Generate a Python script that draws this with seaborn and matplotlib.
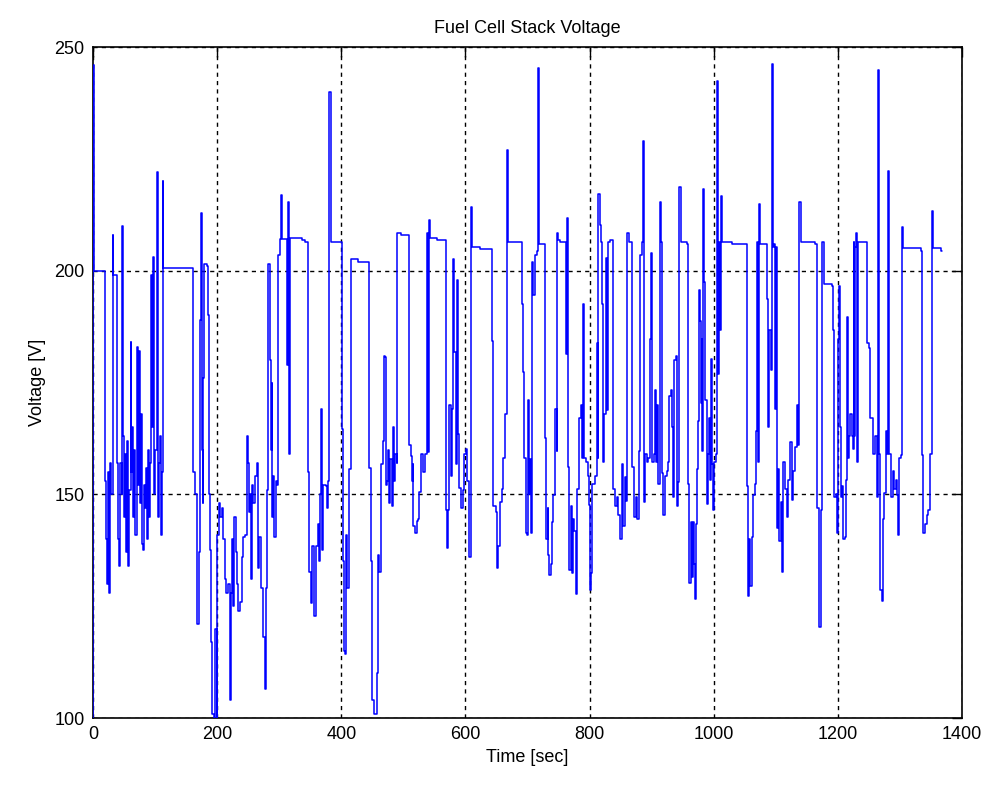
import matplotlib
matplotlib.use("Agg")
import matplotlib.pyplot as plt
import pandas as pd
import seaborn as sns

# step samples (time in sec, stack voltage in V)
time_s = [
    0, 0.3, 1, 19.5, 21, 22.5, 24, 25.5, 27, 29, 31.5, 33, 39.5, 41, 42.5, 44, 46, 47, 49,
    50.5, 52, 53.5, 55, 57, 58.5, 60.5, 62, 63.5, 65, 66.5, 68, 70.5, 72, 73.5, 74.5, 76,
    77.5, 79, 81, 82.5, 84, 85.5, 87, 89, 90.5, 92, 93, 95, 97, 98.5, 100, 102.5, 104, 106,
    107.5, 109.5, 111, 112.2, 113.3, 161.6, 164, 167, 168, 170, 172.4, 174, 175.5, 176.7,
    178, 179.4, 184.2, 185.8, 187, 188.5, 190.1, 192.2, 195, 197, 199.5, 200.3, 203, 204.6,
    207.3, 210, 212.7, 215, 217, 220, 222, 223.4, 226, 227.7, 229.8, 232,
    234.2, 236.9, 239.5, 242.2, 244.9, 248.7, 250.3, 251.5, 253, 254.6, 256.7, 258.3, 261,
    263.7, 265.3, 267.5, 270.7, 273.4, 277.1, 278.7, 280.9, 282.5, 284.7, 285.7, 287, 288,
    289, 290.6, 292.2, 294.3, 295.9, 298.6, 301.3, 302.9, 305.1, 312, 314.7, 316.3, 317.4,
    336.2, 341.6, 345.9, 348, 351.2, 353.4, 356.6, 358.8, 362, 364.1, 365.7, 367.9, 369.5,
    371.1, 374.9, 377, 379.2, 380.8, 382.9, 400.6, 403.3, 405, 406, 407.6, 409.8, 412.5,
    415.1, 427.5, 445.2, 447.9, 450, 453.3, 457, 458.6, 461.3, 463.5, 466.7, 468.8,
    470.5, 472.1, 474.2, 476, 477.4, 479, 481.2, 482.8, 485, 486.6, 489.3, 490.3, 495.7,
    509.7, 511.8, 513.4, 515, 516.1, 518.8, 521.5, 524.2, 525.8, 527.9, 532.2, 534.9, 537.6,
    540.3, 541.9, 543, 553.7, 568.7, 570.9, 572.5, 574.1, 576.8, 578.4, 580.5, 582.2, 584.3,
    585.9, 588.6, 590.2, 592.4, 595.6, 597.7, 600.9, 603.1, 606.3, 608.5, 610.6, 623.5,
    642.3, 645, 648.7, 651.4, 653, 655.7, 658.4, 661.1, 663.8, 666.5, 668.1, 690.6, 693.3,
    694.9, 697.1, 699.8, 701.4,
    703, 704.5, 705.7, 707.8, 709.4, 712.1, 714.8, 716.4, 718.6, 727.1, 728.2, 729.3, 732.5,
    733.6, 735.2, 737.3, 739, 741.6, 744.3, 747, 748.1, 749.7, 752.4, 761.5, 763.1, 764.7,
    766.9, 769.6, 771.2, 773.9, 775.5, 777.6, 779.2, 781.9, 783.5, 786.2, 788.4, 790, 791.6,
    794.3, 797, 799.1, 800.7, 802.3, 803.4, 806.1, 808.8, 811.5, 813.1, 814.1, 816.3, 818.4,
    820.6, 822.2, 823.8, 826, 827.6, 830.3, 832.9, 838.3, 841, 843.7, 846.4, 849, 851.7,
    854.4, 857.1, 858.7, 860.9, 863.5, 868.9, 871.6, 874.8, 877, 879.7, 881.3, 884, 886.1,
    887.7, 889.3, 892, 894.7, 896.8, 899, 901.1, 903.3, 905.4, 907, 909.2, 910.8, 913,
    914.6, 916.2, 918.9, 921.5, 924.2, 926.9, 928.5, 930.7, 932.3, 935, 936.6,
    937.7, 939.3, 941.4, 943, 944.6, 946.8, 956.5, 959.1, 960.7, 962.9, 964.5, 966.1, 968.3,
    969.9, 971.5, 973.6, 975.2, 976.9, 977.9, 979.5, 980.6, 981.7, 983.3, 984.9, 986.5,
    988.7, 990.3, 992.4, 994, 995.7, 997.3, 999.4, 1001, 1003.2, 1004.8, 1006.4, 1008.5,
    1010.2, 1011.2, 1012.8, 1029, 1053.1, 1054.7, 1056.9, 1058.5, 1061.2, 1063.9, 1066.5,
    1068.1, 1070.3, 1071.9, 1073.5, 1074.6, 1086.4, 1088, 1089.6, 1091.8, 1093.4, 1095,
    1097.1, 1099.3, 1100.9, 1102.5, 1104.1, 1105.7, 1107.9, 1109.5, 1112.2, 1114.9, 1117.6,
    1120.2, 1122.9, 1125.6, 1128.3, 1131, 1133.7, 1136.3, 1138, 1140.1, 1163.2,
    1166.5, 1169.6, 1172.9, 1175, 1178.2, 1190, 1192.7, 1194.3, 1196.5, 1198.1, 1199.7,
    1201.9, 1203.5, 1205.1, 1207.2, 1208.8, 1211.5, 1213.1, 1215.3, 1216.9, 1218.5, 1220.1,
    1222.3, 1223.9, 1225.5, 1226.6, 1228.2, 1229.8, 1230.9, 1231.9, 1246.4, 1247.5, 1250.2,
    1252.3, 1254.5, 1257.2, 1259.9, 1262.5, 1264.2, 1266.3, 1267.9, 1270.6, 1272.2, 1274.4,
    1277.1, 1278.7, 1280.3, 1282.4, 1285.6, 1288.3, 1290.5, 1293.2, 1294.8, 1296.4, 1298.5,
    1301.7, 1303.9, 1305.5, 1332.4, 1334, 1336.1, 1337.7, 1340.4, 1343.1, 1345.8, 1348.5,
    1351.2, 1352.8, 1364.6, 1366, 1368.3,
]

voltage_v = [
    100, 246, 200, 153, 140, 130, 155, 128, 157, 150, 208, 199, 157, 140, 134, 157, 150, 210, 163,
    145, 159, 137, 162, 134, 151, 184, 155, 165, 145, 160, 141, 183, 152, 175, 182, 148,
    168, 139, 137.5, 152, 147, 156, 140, 160, 145, 157, 199, 165, 203, 150, 160, 222, 145, 157,
    163, 141, 155, 220, 200.5, 155, 150, 131, 121, 137, 189, 213, 160, 148,
    176, 201.5, 201, 190, 150, 137.5, 117, 101, 100, 120, 100, 141, 148, 145,
    147, 140, 131, 128, 130, 104, 128, 140, 125, 145, 137, 130,
    124, 126, 136, 140.5, 141, 163, 157, 146, 150, 131, 152, 148, 154,
    157, 133.6, 140.5, 129, 118, 106.5, 129, 151, 201.5, 199, 180, 160, 175,
    145, 154, 140.5, 153, 152, 203.4, 207, 217, 207, 179, 215.3, 159, 207.4,
    206.8, 206.3, 155, 132.6, 125.7, 138.5, 122.8, 138.5, 143.4, 135, 150, 169, 137.5,
    152, 151.8, 147, 153, 240, 206.4, 164.6, 135, 115, 114.4, 141, 129, 155.7,
    202.5, 202, 156, 135, 104, 101, 110, 136.5, 132.6, 156.7, 162, 181,
    180.8, 152, 153, 160, 148, 158, 147.4, 165, 153, 159, 157, 208.4, 207.9,
    161, 158.5, 153, 156.7, 143, 141.4, 144, 144.4, 150.5, 159, 155, 159, 208.4,
    159.5, 211.3, 207.4, 206.9, 146.4, 138, 146.4, 170, 154, 169, 202.5, 181.8, 156.7,
    198, 163.5, 151.5, 147, 151, 159, 160.2, 153, 136, 214.3, 205.4, 204.9,
    184.3, 147.4, 146, 133.6, 138.5, 148.3, 151.3, 158.2, 168, 227, 206.4, 192.6, 177.4,
    158.2, 141.4, 141, 171,
    150, 158, 141.4, 202, 194.6, 203.4, 204.4, 245.3, 206, 206, 162.6, 140, 146.9,
    136.5, 132, 134.5, 143.9, 149.8, 169, 159.6, 208.4, 206.9, 206.4, 181.3, 211.8, 156.2,
    133, 147.4, 132.5, 144.4, 141.9, 127.7, 151.3, 151.3, 167, 170, 158.2, 192.6, 158.2,
    157.2, 154.2, 147.7, 128.7, 132.5, 152.3, 152.3, 154.2, 183.8, 158.2, 217.2, 210.3, 206.4,
    192.6, 157.2, 168, 202.9, 168.9, 206.4, 206.9, 151.3, 147.4, 149.3, 145.4, 140, 156.7,
    143, 153.8, 148.4, 208.4, 206.4, 156.2, 145, 149.3, 144.4, 159.6, 203.4, 206.4, 229,
    148.3, 159.1, 157.2, 158.2, 184.7, 204, 157.2, 159.1, 173.4, 157.2, 170, 152.3, 215.3,
    206.4, 154.7, 145.4, 154.2, 155.2, 157.2, 172, 173.4, 165, 149.3, 180,
    180, 181, 147.4, 152.8, 218.7, 206.4, 205.9, 152.3, 130.1, 143.9, 131.6, 143.9, 134.5,
    126.7, 143.4, 155.7, 166.5, 195.6, 188.7, 170.5, 184.8, 159.6, 218.2, 197.5, 171,
    147.8, 159.1, 167, 153.3, 180.3, 156.7, 146.4, 157.2, 159.1, 242.3, 176.9, 206.4,
    186.7, 216.7, 206.4, 205.9, 151.8, 127.2, 140, 129.6, 140.5, 149.8, 152.3,
    164.1, 206.4, 157.2, 214.8, 205.9, 193.6, 165, 186.7, 177.9, 246.3, 205.4,
    205.9, 169, 205.4, 142.4, 155.7, 139.5, 148.3, 132.6, 157.2, 151.3, 144.9,
    153.3, 161.6, 148.8, 155.2, 160.6, 170, 161.1, 215.3, 206.4, 206,
    146.9, 120.3, 146.4, 206.4, 197, 196.5, 186.7, 149.3, 150, 141.4, 184.7,
    196.5, 165, 149.3, 151.8, 140, 140.5, 153.3, 189.7, 158.2, 163.1, 168,
    163.1, 160.1, 206.4, 163.1, 205.4, 208.4, 157.2, 206.4, 206.2, 183.8, 182.8,
    167, 167, 159.1, 163, 149.3, 244.8, 159.1, 128.7, 126.2, 144.4, 150.3,
    164.1, 159.1, 222.2, 159.1, 149.3, 155.2, 151.3, 153.3, 149.8, 141, 158.2,
    158.7, 209.8, 205, 205, 204.5, 158.7, 141.4, 143.4, 145.4, 146.4, 159.1,
    213.3, 205, 205, 204.4, 204.4,
]

x_ticks = [0, 200, 400, 600, 800, 1000, 1200, 1400]
y_ticks = [100, 150, 200, 250]

sns.set_style("white")
plt.rcParams["font.family"] = ["Liberation Sans", "DejaVu Sans"]
plt.rcParams["text.color"] = "black"
plt.rcParams["axes.labelcolor"] = "black"

df = pd.DataFrame({"time": time_s, "voltage": voltage_v})

fig = plt.figure(figsize=(9.87, 7.86), dpi=100)
ax = fig.add_axes([0.0942, 0.0865, 0.8805, 0.8537])

sns.lineplot(data=df, x="time", y="voltage", ax=ax, estimator=None, sort=False,
             drawstyle="steps-post", color="#0000ff", linewidth=1.1, zorder=3)

ax.set_xlim(0, 1400)
ax.set_ylim(100, 250)
ax.set_xticks(x_ticks)
ax.set_yticks(y_ticks)

# matlab style dotted grid + inward ticks on all sides
ax.grid(True, color="black", linestyle=(0, (3, 3)), linewidth=1.0, zorder=1)
ax.tick_params(direction="in", length=7, width=1, top=True, right=True,
               labelsize=13, colors="black", pad=6)
for sp in ax.spines.values():
    sp.set_color("black")
    sp.set_linewidth(1.2)

ax.set_title("Fuel Cell Stack Voltage", fontsize=13, pad=10, color="black")
ax.set_xlabel("Time [sec]", fontsize=13, labelpad=4)
ax.set_ylabel("Voltage [V]", fontsize=13, labelpad=6)

fig.savefig("out.png", dpi=100)
plt.close(fig)
